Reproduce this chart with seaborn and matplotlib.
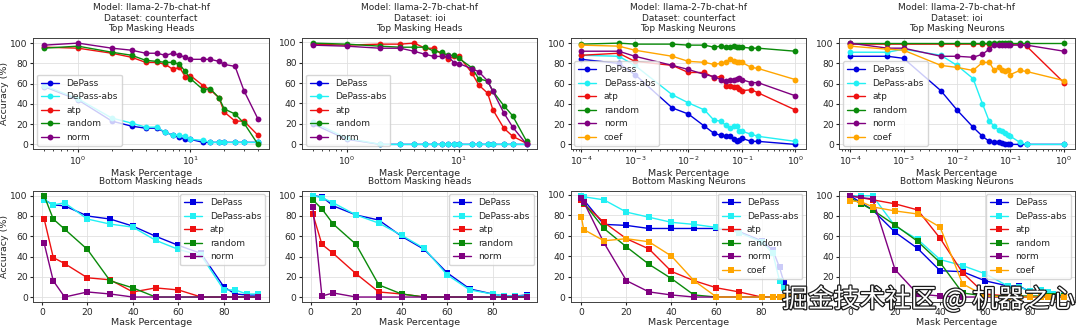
import matplotlib
matplotlib.use("Agg")
import matplotlib.pyplot as plt
import matplotlib.patheffects as pe
import pandas as pd
import seaborn as sns

# ---------------- data ----------------
heads_pct_top = [0.5, 1, 2, 3, 4, 5, 6, 7, 8, 9, 10, 13, 15, 18, 20, 25, 30, 40]
neurons_pct_top = [1e-4, 5e-4, 1e-3, 5e-3, 1e-2, 2e-2, 3e-2, 4e-2, 5e-2, 6e-2,
                   7e-2, 8e-2, 9e-2, 0.1, 0.15, 0.2, 1]
heads_pct_bottom = [1, 5, 10, 20, 30, 40, 50, 60, 70, 80, 85, 90, 95]
neurons_pct_bottom_cf = [0, 1, 10, 20, 30, 40, 50, 60, 70, 80, 85, 88, 90, 92, 95]
neurons_pct_bottom_ioi = [0, 5, 10, 20, 30, 40, 50, 60, 70, 75, 80, 85, 88, 90, 95]

# Top masking heads, counterfact
top_heads_cf = {
    "DePass":     [57, 44, 23, 18, 16, 16, 12, 9, 7, 5, 5, 2, 2, 2, 2, 2, 2, 2],
    "DePass-abs": [58, 45, 26, 21, 17, 17, 12, 9, 9, 8, 5, 4, 2, 2, 2, 2, 2, 2],
    "atp":        [96, 95, 90, 86, 81, 81, 79, 74, 76, 67, 68, 58, 54, 46, 32, 23, 23, 9],
    "random":     [95, 97, 91, 88, 83, 82, 81, 81, 79, 72, 65, 54, 55, 46, 35, 30, 21, 0],
    "norm":       [98, 100, 95, 93, 90, 90, 88, 90, 88, 86, 84, 84, 84, 82, 79, 77, 53, 25],
}
# Top masking heads, ioi
top_heads_ioi = {
    "DePass":     [20, 5, 0, 0, 0, 0, 0, 0, 0, 0, 0, 0, 0, 0, 0, 0, 0, 0],
    "DePass-abs": [22, 6, 0, 0, 0, 0, 0, 0, 0, 0, 0, 0, 0, 0, 0, 0, 0, 0],
    "atp":        [98, 97, 98, 98, 99, 94, 94, 88, 83, 86, 86, 70, 58, 50, 34, 16, 8, 1],
    "random":     [99, 98, 96, 95, 95, 95, 91, 90, 87, 87, 84, 75, 64, 62, 52, 38, 28, 3],
    "norm":       [97, 96, 94, 94, 91, 88, 86, 86, 86, 80, 79, 74, 71, 62, 52, 31, 17, 0],
}
# Top masking neurons, counterfact
top_neurons_cf = {
    "DePass":     [84, 80, 69, 36, 30, 18, 11, 9, 8, 8, 5, 3, 4, 6, 3, 3, 0],
    "DePass-abs": [88, 87, 78, 49, 41, 34, 24, 23, 19, 16, 18, 18, 13, 13, 10, 8, 3],
    "atp":        [88, 90, 82, 78, 71, 71, 66, 67, 58, 58, 57, 57, 55, 53, 54, 51, 34],
    "random":     [99, 100, 99, 99, 98, 98, 96, 97, 96, 96, 97, 96, 96, 96, 95, 95, 92],
    "norm":       [92, 92, 87, 78, 74, 69, 67, 64, 63, 64, 64, 65, 66, 64, 61, 61, 48],
    "coef":       [98, 97, 93, 87, 82, 81, 79, 80, 81, 84, 82, 81, 81, 81, 76, 75, 64],
}
# Top masking neurons, ioi
top_neurons_ioi = {
    "DePass":     [87, 87, 85, 53, 34, 17, 8, 3, 2, 2, 1, 0, 0, 0, 0, 0, 0],
    "DePass-abs": [91, 91, 94, 88, 78, 65, 40, 23, 18, 14, 13, 11, 9, 8, 2, 0, 0],
    "atp":        [99, 99, 99, 99, 99, 99, 99, 99, 99, 99, 99, 99, 99, 99, 99, 97, 61],
    "random":     [100, 100, 100, 100, 100, 100, 100, 100, 100, 100, 100, 100, 100, 100, 100, 100, 100],
    "norm":       [100, 95, 95, 87, 87, 86, 89, 94, 98, 98, 98, 98, 98, 98, 98, 98, 92],
    "coef":       [97, 94, 93, 78, 76, 73, 81, 81, 73, 76, 73, 72, 73, 69, 73, 72, 63],
}
# Bottom masking heads, counterfact
bottom_heads_cf = {
    "DePass":     [96, 91, 90, 80, 77, 70, 60, 51, 43, 10, 3, 2, 2],
    "DePass-abs": [96, 91, 93, 77, 72, 69, 56, 47, 41, 7, 7, 3, 3],
    "atp":        [77, 39, 33, 19, 17, 5, 9, 7, 0, 0, 0, 0, 0],
    "random":     [100, 77, 67, 47, 16, 9, 0, 0, 0, 0, 0, 0, 0],
    "norm":       [53, 16, 0, 5, 3, 0, 0, 0, 0, 0, 0, 0, 0],
}
# Bottom masking heads, ioi
bottom_heads_ioi = {
    "DePass":     [100, 99, 90, 81, 76, 60, 47, 24, 8, 3, 1, 1, 2],
    "DePass-abs": [100, 98, 93, 81, 73, 61, 48, 22, 7, 3, 1, 1, 1],
    "atp":        [82, 52, 43, 23, 5, 3, 0, 0, 0, 0, 0, 0, 0],
    "random":     [96, 87, 72, 52, 12, 3, 0, 0, 0, 0, 0, 0, 0],
    "norm":       [89, 1, 4, 0, 0, 0, 0, 0, 0, 0, 0, 0, 0],
}
# Bottom masking neurons, counterfact
bottom_neurons_cf = {
    "DePass":     [98, 95, 71, 70, 67, 67, 67, 67, 64, 55, 46, 29, 14, 5, 0],
    "DePass-abs": [99, 98, 95, 83, 78, 73, 71, 68, 63, 54, 43, 16, 9, 3, 0],
    "atp":        [95, 91, 73, 57, 47, 25, 16, 9, 5, 0, 0, 0, 0, 0, 0],
    "random":     [97, 92, 67, 49, 32, 18, 2, 0, 0, 0, 0, 0, 0, 0, 0],
    "norm":       [97, 93, 53, 16, 5, 2, 0, 0, 0, 0, 0, 0, 0, 0, 0],
    "coef":       [78, 66, 55, 57, 54, 40, 16, 0, 0, 0, 0, 0, 0, 0, 0],
}
# Bottom masking neurons, ioi
bottom_neurons_ioi = {
    "DePass":     [100, 93, 86, 64, 48, 26, 25, 16, 11, 11, 5, 4, 2, 1, 1],
    "DePass-abs": [100, 100, 100, 70, 57, 37, 31, 23, 11, 10, 6, 7, 5, 3, 2],
    "atp":        [100, 98, 96, 92, 86, 58, 24, 3, 1, 0, 0, 0, 0, 0, 0],
    "random":     [98, 92, 86, 71, 55, 34, 4, 1, 1, 1, 1, 1, 1, 1, 1],
    "norm":       [100, 98, 97, 27, 3, 1, 0, 0, 0, 0, 0, 0, 0, 0, 0],
    "coef":       [95, 94, 89, 85, 82, 69, 13, 1, 0, 0, 0, 0, 0, 0, 0],
}

method_colors = {
    "DePass": "#0000e0",
    "DePass-abs": "#22f0f4",
    "atp": "#ee1111",
    "random": "#0a8a0a",
    "norm": "#800080",
    "coef": "#ffa500",
}

# ---------------- style ----------------
sns.set_style("whitegrid", {
    "axes.edgecolor": "0.25",
    "grid.color": "0.88",
    "xtick.bottom": True,
    "ytick.left": True,
})
plt.rcParams["font.family"] = ["DejaVu Sans"]
plt.rcParams.update({
    "font.size": 6.5,
    "axes.titlesize": 6.5,
    "axes.labelsize": 6.8,
    "xtick.labelsize": 6.6,
    "ytick.labelsize": 6.6,
    "legend.fontsize": 6.5,
    "xtick.major.size": 2.5,
    "ytick.major.size": 2.5,
    "xtick.minor.size": 1.5,
    "xtick.major.pad": 1.5,
    "ytick.major.pad": 1.5,
    "axes.linewidth": 0.7,
    "grid.linewidth": 0.6,
})

fig, axes = plt.subplots(2, 4, figsize=(10.8, 3.28), dpi=100)
fig.subplots_adjust(left=0.031, right=0.995, top=0.884, bottom=0.079,
                    wspace=0.142, hspace=0.37)


def draw_panel(ax, pct, series, title, marker, log, legend_loc, ylabel):
    frame = pd.DataFrame(
        [(p, name, v) for name, vals in series.items() for p, v in zip(pct, vals)],
        columns=["pct", "method", "acc"],
    )
    order = list(series.keys())
    sns.lineplot(data=frame, x="pct", y="acc", hue="method", hue_order=order,
                 palette=[method_colors[m] for m in order], marker=marker,
                 markersize=4.2, markeredgewidth=0, linewidth=1.0, ax=ax)
    if log:
        ax.set_xscale("log")
    ax.set_yticks([0, 20, 40, 60, 80, 100])
    ax.set_title(title, pad=5)
    ax.set_xlabel("Mask Percentage", labelpad=1)
    ax.set_ylabel("Accuracy (%)" if ylabel else "", labelpad=1)
    sns.move_legend(ax, legend_loc, title=None, frameon=True, framealpha=0.8,
                    fontsize=6.5, borderpad=0.45, labelspacing=0.5,
                    handlelength=2.0, borderaxespad=0.4)


top_titles = [
    "Model: llama-2-7b-chat-hf\nDataset: counterfact\nTop Masking Heads",
    "Model: llama-2-7b-chat-hf\nDataset: ioi\nTop Masking Heads",
    "Model: llama-2-7b-chat-hf\nDataset: counterfact\nTop Masking Neurons",
    "Model: llama-2-7b-chat-hf\nDataset: ioi\nTop Masking Neurons",
]
bottom_titles = ["Bottom Masking heads", "Bottom Masking heads",
                 "Bottom Masking Neurons", "Bottom Masking Neurons"]

top_panels = [(heads_pct_top, top_heads_cf), (heads_pct_top, top_heads_ioi),
              (neurons_pct_top, top_neurons_cf), (neurons_pct_top, top_neurons_ioi)]
bottom_panels = [(heads_pct_bottom, bottom_heads_cf), (heads_pct_bottom, bottom_heads_ioi),
                 (neurons_pct_bottom_cf, bottom_neurons_cf),
                 (neurons_pct_bottom_ioi, bottom_neurons_ioi)]

for i, (pct, series) in enumerate(top_panels):
    draw_panel(axes[0, i], pct, series, top_titles[i], "o", True, "lower left", i == 0)
for i, (pct, series) in enumerate(bottom_panels):
    draw_panel(axes[1, i], pct, series, bottom_titles[i], "s", False, "upper right", i == 0)

# publisher watermark
fig.text(0.996, 0.045, "掘金技术社区 @ 机器之心", ha="right", va="bottom",
         fontsize=18.5, color="white", family=["Noto Sans CJK SC", "DejaVu Sans"],
         path_effects=[pe.withStroke(linewidth=1.8, foreground="0.1")], zorder=10)

fig.savefig("out.png", dpi=100)
